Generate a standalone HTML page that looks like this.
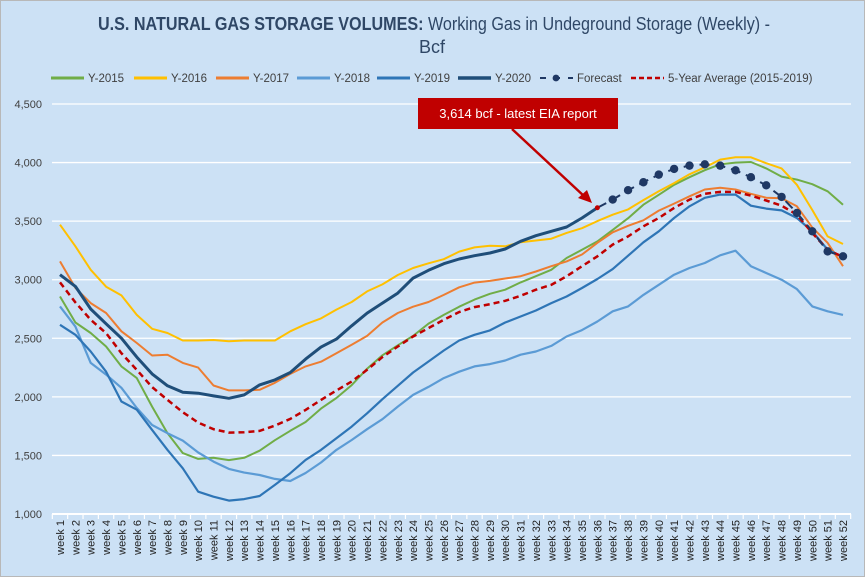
<!DOCTYPE html>
<html><head><meta charset="utf-8"><style>
html,body{margin:0;padding:0;background:#fff}
svg{display:block;font-family:"Liberation Sans",sans-serif}
</style></head><body>
<svg id="chart" width="865" height="577" viewBox="0 0 865 577" xmlns="http://www.w3.org/2000/svg">
<rect x="0.5" y="0.5" width="864" height="576" fill="#cce1f5" stroke="#b8b8b8"/>
<text x="434" y="30" text-anchor="middle" font-size="18" fill="#2f4766" textLength="672" lengthAdjust="spacingAndGlyphs"><tspan font-weight="bold">U.S. NATURAL GAS STORAGE VOLUMES:</tspan> Working Gas in Undeground Storage (Weekly) -</text>
<text x="432" y="53" text-anchor="middle" font-size="18" fill="#2f4766">Bcf</text>
<g id="grid"></g>
<g id="yaxis"></g>
<g id="xaxis"></g>
<g id="series"></g>
<g id="legend"></g>
<g>
<rect x="418" y="98" width="200" height="31" fill="#c00000"/>
<text x="518" y="118" text-anchor="middle" font-size="13" fill="#fff">3,614 bcf - latest EIA report</text>
<line x1="512" y1="129" x2="585" y2="197" stroke="#c00000" stroke-width="2.5"/>
<polygon points="592,203 578,198 587,190" fill="#c00000"/>
</g>
</svg>
<script>
const weeks = Array.from({length:52},(_,i)=>'week '+(i+1));
const yTicks = [1000,1500,2000,2500,3000,3500,4000,4500];
const y2015 = [2857,2635,2545,2430,2260,2160,1917,1690,1520,1470,1480,1460,1480,1540,1630,1710,1785,1900,1990,2100,2240,2355,2440,2520,2625,2700,2770,2830,2880,2915,2977,3030,3085,3185,3255,3327,3425,3525,3640,3725,3810,3875,3935,3985,4000,4005,3950,3880,3855,3815,3755,3640];
const y2016 = [3470,3285,3085,2940,2866,2700,2581,2545,2481,2481,2485,2475,2481,2481,2481,2560,2620,2670,2745,2810,2900,2960,3040,3100,3140,3175,3240,3276,3290,3285,3320,3335,3350,3400,3440,3500,3555,3600,3680,3755,3825,3900,3960,4025,4045,4045,3995,3950,3810,3595,3370,3305];
const y2017 = [3156,2930,2800,2716,2560,2460,2353,2360,2290,2250,2097,2055,2055,2060,2120,2196,2260,2300,2373,2445,2520,2635,2716,2770,2810,2870,2935,2975,2990,3010,3030,3070,3115,3156,3215,3315,3405,3460,3507,3590,3650,3712,3770,3785,3770,3733,3700,3695,3627,3445,3315,3115];
const y2018 = [2772,2600,2290,2190,2077,1905,1760,1690,1627,1525,1447,1385,1353,1333,1300,1282,1350,1440,1547,1632,1724,1809,1917,2017,2085,2160,2215,2260,2280,2310,2360,2387,2435,2515,2570,2643,2730,2772,2870,2957,3043,3100,3143,3208,3248,3115,3057,3000,2920,2772,2730,2700];
const y2019 = [2615,2530,2387,2215,1960,1890,1718,1547,1390,1190,1148,1114,1127,1154,1248,1348,1462,1547,1647,1746,1860,1980,2094,2208,2302,2396,2481,2530,2567,2635,2686,2737,2800,2857,2929,3006,3091,3205,3319,3413,3527,3627,3699,3727,3727,3632,3607,3592,3527,3413,3256,3194];
const y2020 = [3043,2943,2750,2624,2501,2339,2196,2094,2040,2031,2008,1988,2017,2102,2145,2208,2322,2425,2493,2607,2715,2800,2886,3014,3080,3137,3177,3205,3228,3262,3328,3376,3413,3450,3527,3614];
const forecastStart = 36;
const forecast = [3614,3684,3764,3832,3897,3946,3974,3985,3974,3934,3875,3806,3707,3570,3413,3242,3200];
const avg5 = [2977,2806,2658,2544,2373,2230,2083,1974,1869,1780,1724,1695,1698,1709,1755,1812,1889,1974,2054,2131,2231,2339,2430,2515,2587,2658,2724,2766,2791,2820,2863,2915,2957,3029,3115,3200,3300,3370,3456,3527,3613,3684,3733,3750,3750,3718,3676,3632,3556,3399,3256,3194];

const NS='http://www.w3.org/2000/svg';
const L=52,R=851,T=104,B=514,x0=60,x1=843;
const xs=i=>x0+(x1-x0)*i/51;
const ys=v=>B-(v-1000)/(4500-1000)*(B-T);
function mk(tag,attrs,parent){const e=document.createElementNS(NS,tag);for(const k in attrs)e.setAttribute(k,attrs[k]);parent.appendChild(e);return e;}
const grid=document.getElementById('grid'),ya=document.getElementById('yaxis'),xa=document.getElementById('xaxis'),sg=document.getElementById('series'),lg=document.getElementById('legend');
yTicks.forEach(v=>{
  if(v>1000){const g=mk('line',{x1:L,x2:R,y1:ys(v),y2:ys(v),stroke:'#fff','stroke-width':1.3},grid);
  
  }
  const t=mk('text',{x:42,y:ys(v)+4,'text-anchor':'end','font-size':11,fill:'#404040'},ya);
  
  
  t.textContent=v.toLocaleString('en-US');
});
const ax=mk('line',{x1:L,x2:R,y1:B,y2:B,stroke:'#fff','stroke-width':2},xa);


const step=(x1-x0)/51;
for(let i=0;i<=52;i++){const tx=x0-step/2+i*step;const tk=mk('line',{x1:tx,x2:tx,y1:B,y2:B+5,stroke:'#fff','stroke-width':1.2},xa);

}
weeks.forEach((w,i)=>{const t=mk('text',{transform:`translate(${xs(i)+4},${B+6}) rotate(-90)`,'text-anchor':'end','font-size':11,fill:'#222'},xa);


t.textContent=w;});
function path(vals,off){return vals.map((v,i)=>(i?'L':'M')+xs(i+off).toFixed(1)+','+ys(v).toFixed(1)).join(' ');}
const defs=[
 {name:'series-y2015',d:y2015,c:'#70ad47',w:2},
 {name:'series-y2016',d:y2016,c:'#ffc000',w:2},
 {name:'series-y2017',d:y2017,c:'#ed7d31',w:2},
 {name:'series-y2018',d:y2018,c:'#5b9bd5',w:2.2},
 {name:'series-y2019',d:y2019,c:'#2e75b6',w:2.2},
];
defs.forEach(s=>{const p=mk('path',{d:path(s.d,0),fill:'none',stroke:s.c,'stroke-width':s.w,'stroke-linejoin':'round'},sg);

});
const pa=mk('path',{d:path(avg5,0),fill:'none',stroke:'#c00000','stroke-width':2.5,'stroke-dasharray':'6 4'},sg);


const pf=mk('path',{d:path(forecast,forecastStart-1),fill:'none',stroke:'#1f3864','stroke-width':2,'stroke-dasharray':'10 6'},sg);


forecast.forEach((v,i)=>{if(i===0)return;const c=mk('circle',{cx:xs(i+forecastStart-1),cy:ys(v),r:4.2,fill:'#1f3864'},sg);

});
const p20=mk('path',{d:path(y2020,0),fill:'none',stroke:'#1f4e79','stroke-width':3,'stroke-linejoin':'round'},sg);


const lp=mk('circle',{cx:xs(35),cy:ys(y2020[35]),r:2.5,fill:'#c00000'},sg);


const legendItems=[
 {t:'Y-2015',x:51,c:'#70ad47',w:3,da:''},
 {t:'Y-2016',x:134,c:'#ffc000',w:3,da:''},
 {t:'Y-2017',x:216,c:'#ed7d31',w:3,da:''},
 {t:'Y-2018',x:297,c:'#5b9bd5',w:3,da:''},
 {t:'Y-2019',x:377,c:'#2e75b6',w:3,da:''},
 {t:'Y-2020',x:458,c:'#1f4e79',w:3.5,da:''},
 {t:'Forecast',x:540,c:'#1f3864',w:2,da:'6 8',dot:true},
 {t:'5-Year Average (2015-2019)',x:631,c:'#c00000',w:2.5,da:'5 3'},
];
legendItems.forEach(it=>{const g=mk('g',{},lg);


mk('line',{x1:it.x,x2:it.x+33,y1:78,y2:78,stroke:it.c,'stroke-width':it.w,'stroke-dasharray':it.da},g);
if(it.dot)mk('circle',{cx:it.x+16,cy:78,r:3.4,fill:it.c},g);
const t=mk('text',{x:it.x+37,y:82,'font-size':11.5,fill:'#404040'},g);t.textContent=it.t;});
</script>
</body></html>
